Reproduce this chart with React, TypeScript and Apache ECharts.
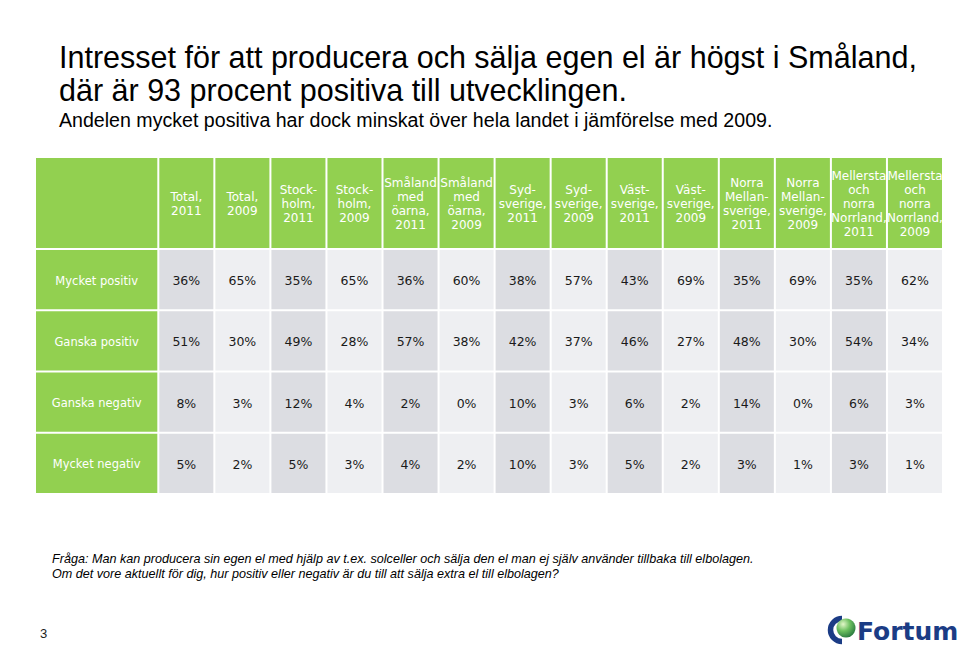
import React, { useEffect, useRef } from "react";
import * as echarts from "echarts";

const titleLines = [
  "Intresset för att producera och sälja egen el är högst i Småland,",
  "där är 93 procent positiva till utvecklingen.",
];
const subtitle = "Andelen mycket positiva har dock minskat över hela landet i jämförelse med 2009.";
const footnoteLines = [
  "Fråga: Man kan producera sin egen el med hjälp av t.ex. solceller och sälja den el man ej själv använder tillbaka till elbolagen.",
  "Om det vore aktuellt för dig, hur positiv eller negativ är du till att sälja extra el till elbolagen?",
];
const pageNumber = "3";

const columnHeaders = [
  "Total,\n2011",
  "Total,\n2009",
  "Stock-\nholm,\n2011",
  "Stock-\nholm,\n2009",
  "Småland\nmed\nöarna,\n2011",
  "Småland\nmed\nöarna,\n2009",
  "Syd-\nsverige,\n2011",
  "Syd-\nsverige,\n2009",
  "Väst-\nsverige,\n2011",
  "Väst-\nsverige,\n2009",
  "Norra\nMellan-\nsverige,\n2011",
  "Norra\nMellan-\nsverige,\n2009",
  "Mellersta\noch\nnorra\nNorrland,\n2011",
  "Mellersta\noch\nnorra\nNorrland,\n2009",
];
const rowLabels = ["Mycket positiv", "Ganska positiv", "Ganska negativ", "Mycket negativ"];
const mycketPositiv = [36, 65, 35, 65, 36, 60, 38, 57, 43, 69, 35, 69, 35, 62];
const ganskaPositiv = [51, 30, 49, 28, 57, 38, 42, 37, 46, 27, 48, 30, 54, 34];
const ganskaNegativ = [8, 3, 12, 4, 2, 0, 10, 3, 6, 2, 14, 0, 6, 3];
const mycketNegativ = [5, 2, 5, 3, 4, 2, 10, 3, 5, 2, 3, 1, 3, 1];
const rowValues = [mycketPositiv, ganskaPositiv, ganskaNegativ, mycketNegativ];

const GREEN = "#92D050";
const GRAY_DARK = "#DCDDE2";
const GRAY_LIGHT = "#EEEFF2";
const LABEL_W = 2.2;
const HEADER_H = 1.5;

type Cell = { x0: number; x1: number; y0: number; y1: number; text: string; kind: string; col: number };

function buildCells(): Cell[] {
  const cells: Cell[] = [];
  cells.push({ x0: 0, x1: LABEL_W, y0: 0, y1: HEADER_H, text: "", kind: "header", col: -1 });
  columnHeaders.forEach((h, i) => {
    cells.push({ x0: LABEL_W + i, x1: LABEL_W + i + 1, y0: 0, y1: HEADER_H, text: h, kind: "header", col: i });
  });
  rowLabels.forEach((lab, r) => {
    const y0 = HEADER_H + r;
    cells.push({ x0: 0, x1: LABEL_W, y0, y1: y0 + 1, text: lab, kind: "label", col: -1 });
    rowValues[r].forEach((v, i) => {
      cells.push({ x0: LABEL_W + i, x1: LABEL_W + i + 1, y0, y1: y0 + 1, text: v + "%", kind: "value", col: i });
    });
  });
  return cells;
}

const VERDANA = "'DejaVu Sans', Verdana, sans-serif";
const ARIAL = "'Liberation Sans', Arial, sans-serif";

export default function App() {
  const ref = useRef<HTMLDivElement>(null);
  useEffect(() => {
    if (!ref.current) return;
    const chart = echarts.init(ref.current, undefined, { renderer: "svg" });
    const cells = buildCells();
    const data = cells.map((c) => [c.x0, c.x1, c.y0, c.y1]);
    const option: any = {
      animation: false,
      backgroundColor: "#ffffff",
      grid: { left: 35, right: 17, top: 157, bottom: 156 },
      xAxis: { type: "value", min: 0, max: LABEL_W + columnHeaders.length, show: false },
      yAxis: { type: "value", min: 0, max: HEADER_H + rowLabels.length, inverse: true, show: false },
      series: [
        {
          type: "custom",
          data,
          renderItem: (params: any, api: any) => {
            const c = cells[params.dataIndex];
            const p0 = api.coord([api.value(0), api.value(2)]);
            const p1 = api.coord([api.value(1), api.value(3)]);
            const x = Math.min(p0[0], p1[0]) + 1;
            const y = Math.min(p0[1], p1[1]) + 1;
            const w = Math.abs(p1[0] - p0[0]) - 2;
            const h = Math.abs(p1[1] - p0[1]) - 2;
            let fill = GREEN;
            if (c.kind === "value") fill = c.col % 2 === 0 ? GRAY_DARK : GRAY_LIGHT;
            const textColor = c.kind === "value" ? "#1a1a1a" : "#ffffff";
            const size = c.kind === "header" ? 12 : c.kind === "label" ? 11.5 : 12.5;
            return {
              type: "group",
              children: [
                { type: "rect", shape: { x, y, width: w, height: h }, style: { fill } },
                {
                  type: "text",
                  style: {
                    text: c.text,
                    x: x + w / 2,
                    y: y + h / 2 + 1,
                    align: "center",
                    verticalAlign: "middle",
                    fill: textColor,
                    font: size + "px " + VERDANA,
                    lineHeight: 14,
                  },
                },
              ],
            };
          },
        },
      ],
      graphic: [
        ...titleLines.map((t, i) => ({
          type: "text",
          style: { text: t, x: 59, y: 57 + i * 33, verticalAlign: "middle", font: "30.5px " + ARIAL, fill: "#000" },
        })),
        {
          type: "text",
          style: { text: subtitle, x: 59, y: 120, verticalAlign: "middle", font: "19.6px " + ARIAL, fill: "#000" },
        },
        ...footnoteLines.map((t, i) => ({
          type: "text",
          style: { text: t, x: 52, y: 559 + i * 15, verticalAlign: "middle", font: "italic 12.6px " + ARIAL, fill: "#000" },
        })),
        {
          type: "text",
          style: { text: pageNumber, x: 40, y: 633, verticalAlign: "middle", font: "13px " + ARIAL, fill: "#222" },
        },
        {
          type: "arc",
          shape: { cx: 842, cy: 630, r: 11.5, startAngle: Math.PI * 0.5, endAngle: Math.PI * 1.5, clockwise: true },
          style: { stroke: "#1B3C85", lineWidth: 5.5, fill: null },
        },
        {
          type: "circle",
          shape: { cx: 846, cy: 628, r: 9.5 },
          style: {
            fill: new echarts.graphic.RadialGradient(0.35, 0.3, 0.8, [
              { offset: 0, color: "#e2f7c8" },
              { offset: 0.45, color: "#6cc060" },
              { offset: 1, color: "#1f6e3a" },
            ]),
          },
        },
        {
          type: "text",
          style: { text: "Fortum", x: 857, y: 631, verticalAlign: "middle", font: "bold 25px " + VERDANA, fill: "#1B3C85" },
        },
      ],
    };
    chart.setOption(option);
    return () => chart.dispose();
  }, []);
  return <div ref={ref} style={{ position: "fixed", left: 0, top: 0, width: 960, height: 650 }} />;
}
